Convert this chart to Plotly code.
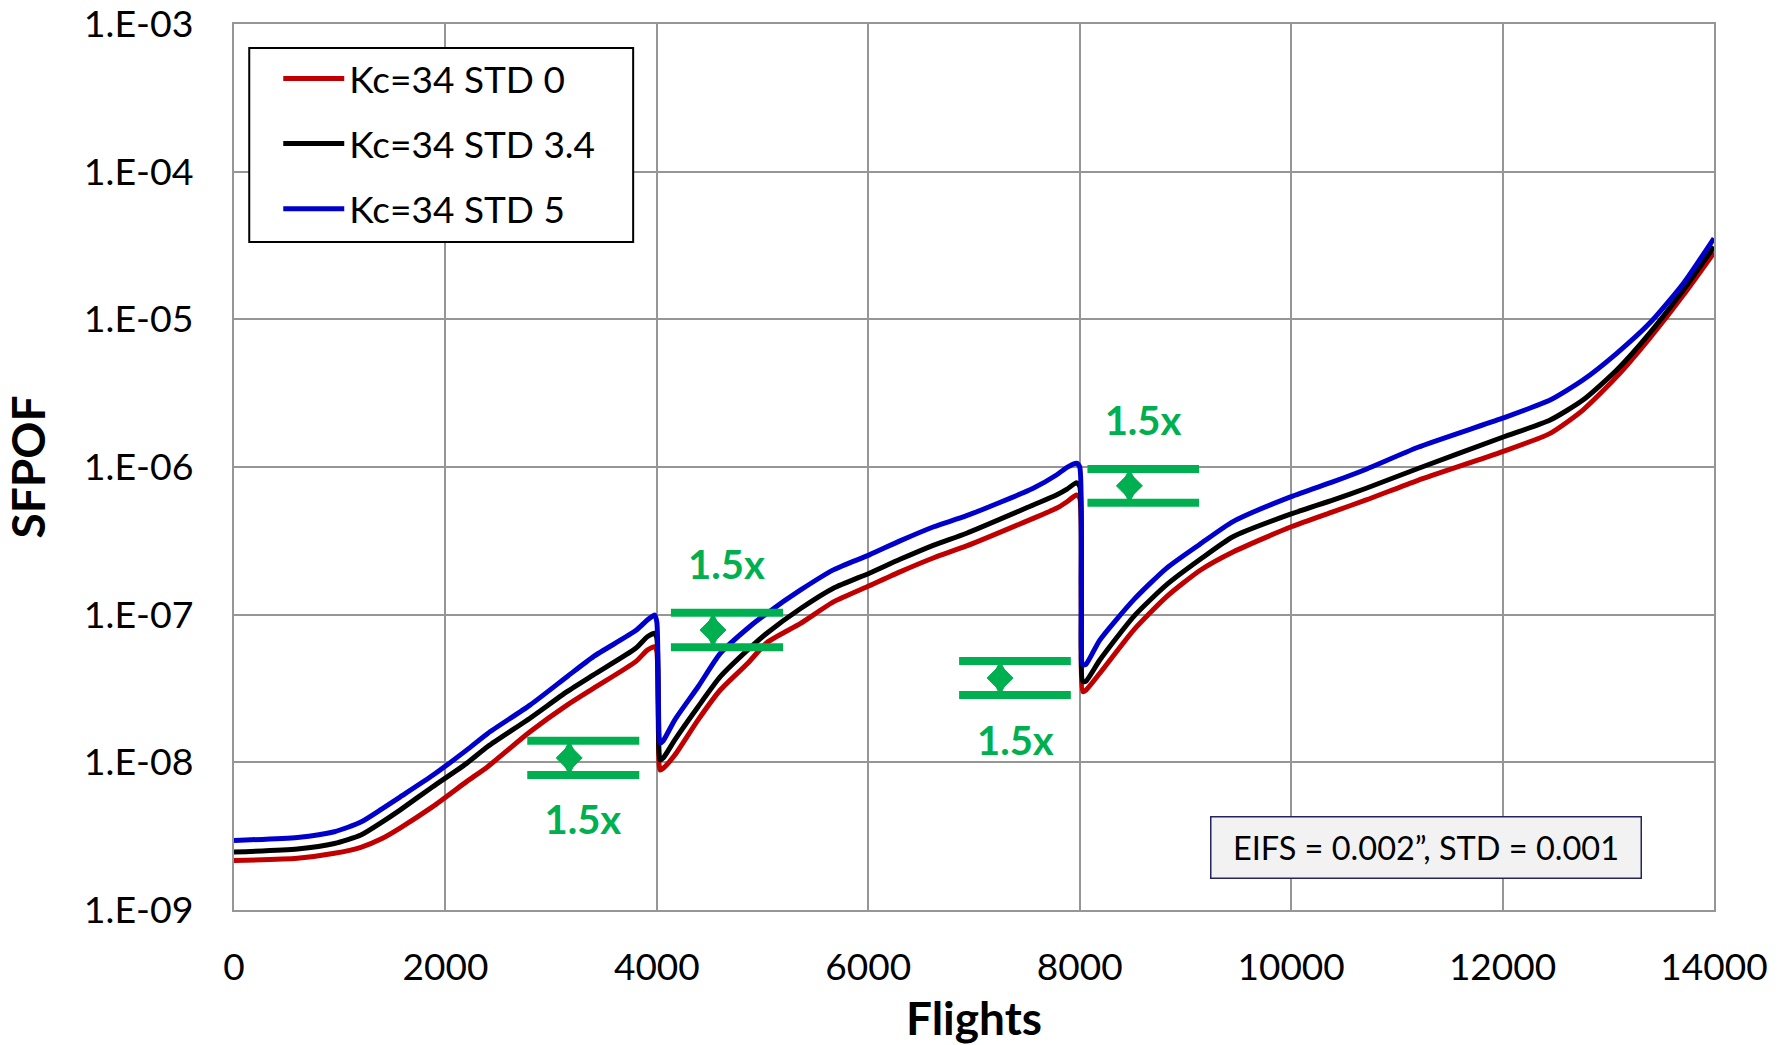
import plotly.graph_objects as go

# Flight counts shared by all three probability curves
flights = [0, 600, 950, 1200, 1400, 1570, 1880, 2200, 2400, 2800,
           3150, 3400, 3800, 3910, 3980, 4000, 4015, 4030, 4060, 4170,
           4390, 4600, 4860, 5040, 5360, 5670, 6010, 6300, 6620, 6930,
           7560, 7780, 7880, 7970, 8000, 8015, 8030, 8060, 8190, 8510,
           8820, 9140, 9450, 10000, 10400, 10710, 11200, 12000, 12450, 12760,
           13080, 13390, 13710, 14000]

sfpof_std0 = [2.16e-9, 2.24e-9, 2.42e-9, 2.66e-9, 3.05e-9, 3.59e-9, 5.01e-9, 7.40e-9, 9.35e-9, 1.61e-8,
              2.44e-8, 3.17e-8, 4.81e-8, 5.75e-8, 6.07e-8, 5.62e-8, 1.58e-8, 8.87e-9, 9.12e-9, 1.12e-8,
              1.94e-8, 3.09e-8, 4.69e-8, 6.46e-8, 8.73e-8, 1.22e-7, 1.57e-7, 1.95e-7, 2.43e-7, 2.92e-7,
              4.49e-7, 5.25e-7, 5.82e-7, 6.46e-7, 6.17e-7, 1.12e-7, 3.01e-8, 3.09e-8, 4.01e-8, 7.87e-8,
              1.32e-7, 2.00e-7, 2.66e-7, 3.94e-7, 4.99e-7, 5.98e-7, 8.13e-7, 1.27e-6, 1.69e-6, 2.43e-6,
              4.09e-6, 7.43e-6, 1.46e-5, 2.83e-5]

sfpof_std34 = [2.47e-9, 2.59e-9, 2.82e-9, 3.22e-9, 3.94e-9, 4.75e-9, 6.84e-9, 9.84e-9, 1.28e-8, 1.99e-8,
               3.01e-8, 3.91e-8, 5.92e-8, 7.08e-8, 7.48e-8, 6.92e-8, 2.00e-8, 1.04e-8, 1.07e-8, 1.42e-8,
               2.38e-8, 3.80e-8, 5.77e-8, 7.48e-8, 1.10e-7, 1.51e-7, 1.91e-7, 2.37e-7, 2.96e-7, 3.56e-7,
               5.53e-7, 6.46e-7, 7.08e-7, 7.83e-7, 7.41e-7, 1.26e-7, 3.52e-8, 3.55e-8, 4.93e-8, 9.70e-8,
               1.59e-7, 2.37e-7, 3.37e-7, 4.81e-7, 5.98e-7, 7.18e-7, 9.77e-7, 1.59e-6, 2.08e-6, 2.84e-6,
               4.54e-6, 8.04e-6, 1.58e-5, 3.10e-5]

sfpof_std5 = [2.96e-9, 3.10e-9, 3.39e-9, 3.94e-9, 4.84e-9, 5.82e-9, 8.17e-9, 1.21e-8, 1.57e-8, 2.44e-8,
              3.80e-8, 5.20e-8, 7.80e-8, 9.20e-8, 9.95e-8, 8.91e-8, 2.51e-8, 1.35e-8, 1.40e-8, 1.94e-8,
              3.25e-8, 5.47e-8, 8.09e-8, 1.02e-7, 1.47e-7, 2.01e-7, 2.54e-7, 3.16e-7, 3.94e-7, 4.68e-7,
              7.18e-7, 8.83e-7, 9.95e-7, 1.06e-6, 1.00e-6, 1.58e-7, 4.57e-8, 4.62e-8, 6.73e-8, 1.26e-7,
              2.06e-7, 3.01e-7, 4.27e-7, 6.30e-7, 7.96e-7, 9.66e-7, 1.36e-6, 2.14e-6, 2.84e-6, 3.88e-6,
              5.89e-6, 9.40e-6, 1.75e-5, 3.54e-5]

series_names = ["Kc=34 STD 0", "Kc=34 STD 3.4", "Kc=34 STD 5"]
series_values = [sfpof_std0, sfpof_std34, sfpof_std5]
series_colors = ["#c00000", "#000000", "#0000cc"]

x_tick_vals = [0, 2000, 4000, 6000, 8000, 10000, 12000, 14000]
x_tick_text = ["0", "2000", "4000", "6000", "8000", "10000", "12000", "14000"]
y_tick_vals = [1e-9, 1e-8, 1e-7, 1e-6, 1e-5, 1e-4, 1e-3]
y_tick_text = ["1.E-09", "1.E-08", "1.E-07", "1.E-06", "1.E-05", "1.E-04", "1.E-03"]

# "1.5x" spread markers: bar extents, upper/lower levels, arrow and label spots
ratio_bar_start = [2774, 4133, 6859, 8073]
ratio_bar_end = [3834, 5194, 7916, 9129]
ratio_upper = [1.40e-8, 1.03e-7, 4.85e-8, 9.69e-7]
ratio_lower = [8.20e-9, 6.01e-8, 2.86e-8, 5.73e-7]
ratio_arrow_x = [3171, 4531, 7247, 8470]
ratio_label_x = [3300, 4658, 7391, 8599]
ratio_label_y = [3.82e-9, 2.03e-7, 1.31e-8, 1.94e-6]
ratio_label = "1.5x"

note_text = "EIFS = 0.002\u201d, STD = 0.001"

FONT = "Lato, 'Open Sans', sans-serif"
GRID = "#969696"
GREEN = "#00b050"

fig = go.Figure()

for i, (name, vals, col) in enumerate(zip(series_names, series_values, series_colors)):
    fig.add_trace(go.Scatter(
        x=flights, y=vals, mode="lines", name=name,
        legendgroup=f"g{i}",
        line=dict(color=col, width=5, shape="spline", smoothing=0.6),
    ))

for xs, xe, yu, yl, xa in zip(ratio_bar_start, ratio_bar_end, ratio_upper, ratio_lower, ratio_arrow_x):
    for level in (yu, yl):
        fig.add_trace(go.Scatter(
            x=[xs, xe], y=[level, level], mode="lines",
            line=dict(color=GREEN, width=8), showlegend=False, hoverinfo="skip",
        ))
    mid = (yu * yl) ** 0.5
    # double-headed arrow between the two bars: a tall point plus a wide body
    for sym, sz in (("diamond-tall", 24), ("diamond", 20)):
        fig.add_trace(go.Scatter(
            x=[xa], y=[mid], mode="markers",
            marker=dict(symbol=sym, size=sz, color=GREEN, opacity=1,
                        line=dict(width=1, color=GREEN)),
            showlegend=False, hoverinfo="skip",
        ))

fig.add_trace(go.Scatter(
    x=ratio_label_x, y=ratio_label_y, mode="text",
    text=[ratio_label] * len(ratio_label_x), textposition="middle center",
    textfont=dict(family=FONT, size=40, color=GREEN, weight="bold"),
    showlegend=False, hoverinfo="skip",
))

# legend frame
fig.add_shape(
    type="rect", xref="paper", yref="paper",
    x0=0.0103, x1=0.2697, y0=0.7539, y1=0.9729,
    fillcolor="white", line=dict(color="black", width=2), layer="above",
)

fig.add_annotation(
    xref="paper", yref="paper", x=0.8051, y=0.070,
    xanchor="center", yanchor="middle",
    text=note_text, showarrow=False,
    font=dict(family=FONT, size=32.5, color="black"),
    bgcolor="#f2f2f2", bordercolor="#25255e", borderwidth=1.5,
    width=429, height=60, borderpad=0,
)

fig.update_layout(
    width=1782, height=1045,
    margin=dict(l=234, r=68, t=24, b=135),
    paper_bgcolor="white", plot_bgcolor="white",
    font=dict(family=FONT, color="black"),
    showlegend=True,
    legend=dict(
        x=0.0299, y=0.973, xanchor="left", yanchor="top",
        bgcolor="rgba(0,0,0,0)", borderwidth=0,
        font=dict(family=FONT, size=37, color="black"),
        traceorder="grouped", tracegroupgap=14, itemwidth=61,
    ),
    xaxis=dict(
        range=[0, 14000], tickvals=x_tick_vals, ticktext=x_tick_text, ticks="",
        tickfont=dict(family=FONT, size=37, color="black"),
        ticklabelstandoff=24, automargin=False,
        showgrid=True, gridcolor=GRID, gridwidth=2,
        showline=True, linecolor=GRID, linewidth=2, mirror=True,
        zeroline=False,
        title=dict(text="Flights", standoff=17,
                   font=dict(family=FONT, size=46, color="black", weight="bold")),
    ),
    yaxis=dict(
        type="log", range=[-9, -3], tickvals=y_tick_vals, ticktext=y_tick_text, ticks="",
        tickfont=dict(family=FONT, size=37.5, color="black"),
        ticklabelstandoff=31, automargin=False,
        showgrid=True, gridcolor=GRID, gridwidth=2,
        showline=True, linecolor=GRID, linewidth=2, mirror=True,
        zeroline=False,
        title=dict(text="SFPOF", standoff=30,
                   font=dict(family=FONT, size=46, color="black", weight="bold")),
    ),
)

fig.write_html("out.html")
